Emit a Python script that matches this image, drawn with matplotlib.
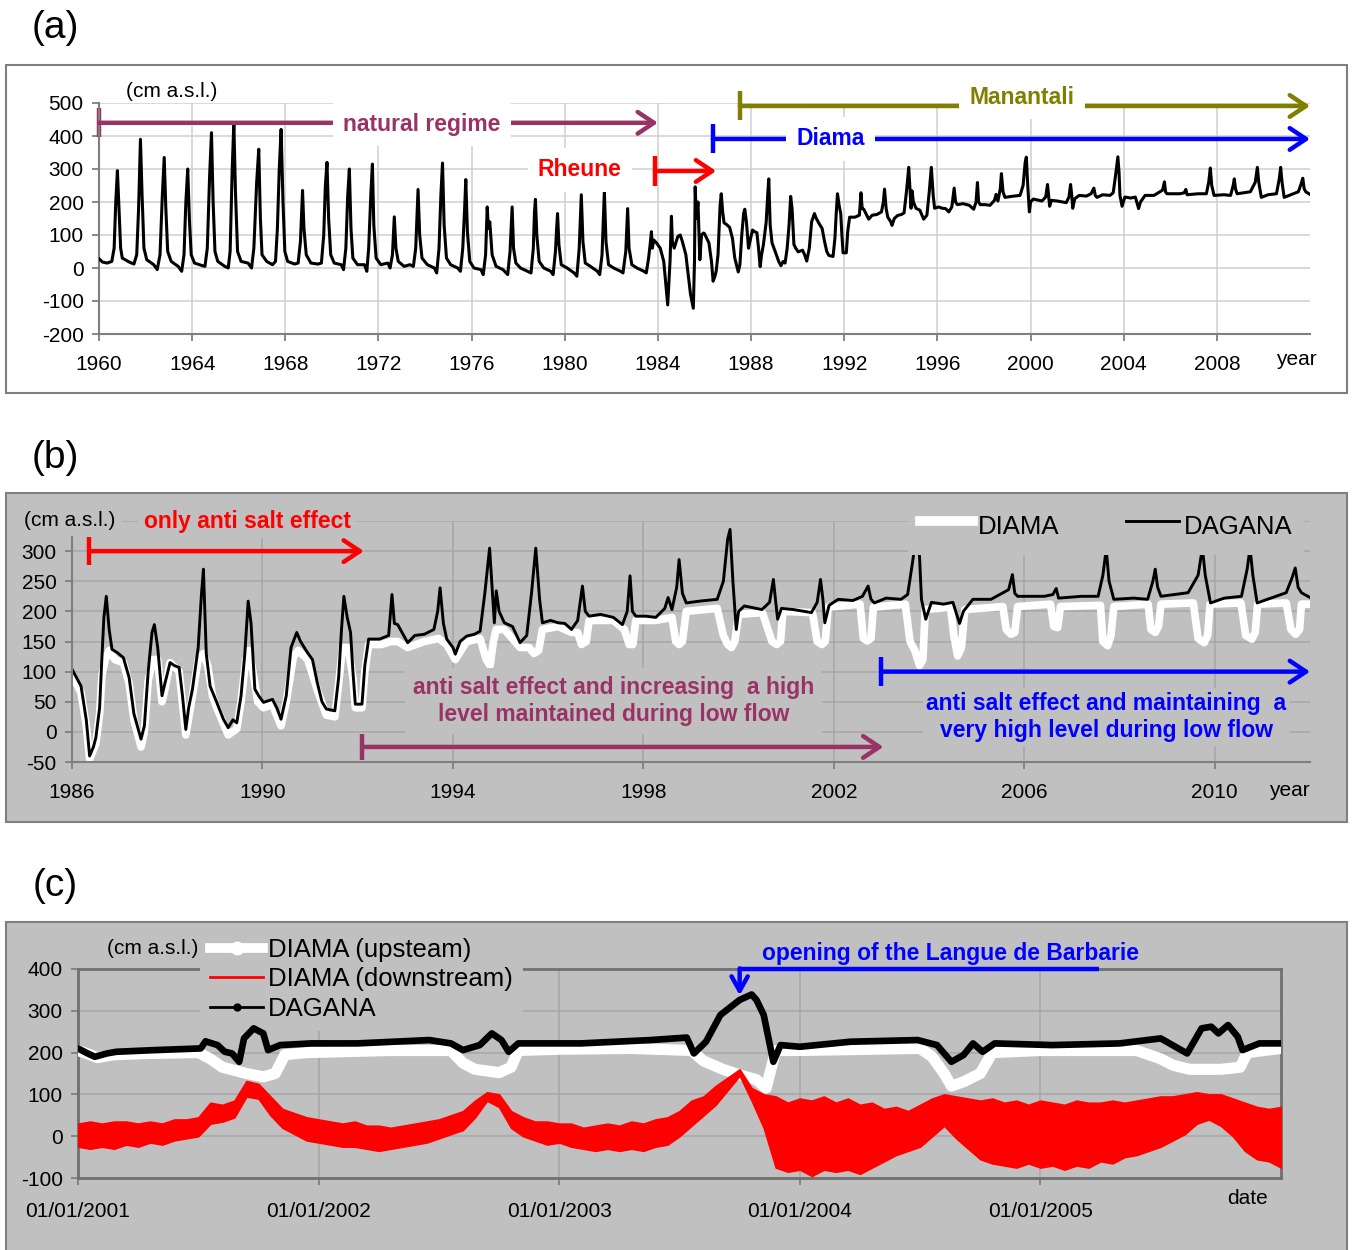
import numpy as np
import matplotlib.pyplot as plt
from matplotlib.patches import Rectangle
from matplotlib.lines import Line2D

plt.rcParams['font.family'] = ['Liberation Sans', 'DejaVu Sans']
plt.rcParams['axes.unicode_minus'] = False

# ---------------- data ----------------
# (a) river level at Dagana before 1986, natural regime years (year, cm a.s.l.)
dagana_pre86 = [
    (1960.00, 28), (1960.15, 18), (1960.35, 15), (1960.55, 20), (1960.65, 60), (1960.72, 200), (1960.79, 295), (1960.86, 180), (1960.93, 60),
    (1961.00, 30), (1961.30, 18), (1961.50, 12), (1961.62, 40), (1961.70, 180), (1961.78, 390), (1961.85, 220), (1961.93, 60),
    (1962.05, 25), (1962.35, 10), (1962.50, -5), (1962.62, 40), (1962.72, 220), (1962.80, 335), (1962.87, 180), (1962.95, 50),
    (1963.10, 20), (1963.40, 5), (1963.55, -10), (1963.65, 40), (1963.73, 200), (1963.81, 300), (1963.88, 150), (1963.96, 40),
    (1964.10, 15), (1964.40, 8), (1964.55, 5), (1964.65, 60), (1964.75, 280), (1964.83, 410), (1964.90, 200), (1964.98, 50),
    (1965.10, 20), (1965.40, 5), (1965.55, 0), (1965.63, 50), (1965.72, 300), (1965.79, 440), (1965.86, 230), (1965.95, 50),
    (1966.10, 20), (1966.40, 15), (1966.55, 0), (1966.65, 60), (1966.77, 260), (1966.86, 360), (1966.93, 150), (1967.00, 40),
    (1967.20, 20), (1967.45, 10), (1967.58, 20), (1967.66, 120), (1967.74, 300), (1967.82, 420), (1967.90, 200), (1967.98, 50),
    (1968.10, 20), (1968.40, 12), (1968.55, 15), (1968.65, 80), (1968.74, 235), (1968.80, 120), (1968.90, 40),
    (1969.10, 15), (1969.40, 12), (1969.55, 15), (1969.65, 100), (1969.72, 250), (1969.79, 320), (1969.86, 150), (1969.95, 40),
    (1970.10, 15), (1970.40, 10), (1970.50, -5), (1970.60, 60), (1970.68, 220), (1970.75, 300), (1970.82, 120), (1970.90, 30),
    (1971.10, 10), (1971.40, 10), (1971.50, -10), (1971.58, 60), (1971.67, 220), (1971.74, 315), (1971.80, 130), (1971.90, 30),
    (1972.10, 10), (1972.40, 15), (1972.50, 0), (1972.60, 40), (1972.68, 155), (1972.75, 60), (1972.85, 20),
    (1973.10, 5), (1973.35, 10), (1973.50, 5), (1973.60, 60), (1973.70, 238), (1973.77, 100), (1973.87, 30),
    (1974.10, 10), (1974.40, 0), (1974.50, -15), (1974.60, 60), (1974.68, 220), (1974.75, 318), (1974.82, 130), (1974.92, 30),
    (1975.10, 10), (1975.40, 0), (1975.52, -10), (1975.62, 60), (1975.70, 180), (1975.75, 268), (1975.82, 110), (1975.92, 20),
    (1976.10, 0), (1976.40, -5), (1976.50, -20), (1976.60, 40), (1976.67, 185), (1976.72, 120), (1976.78, 140), (1976.88, 40),
    (1977.05, 5), (1977.35, -5), (1977.55, -20), (1977.65, 50), (1977.74, 185), (1977.80, 60), (1977.90, 15),
    (1978.10, 0), (1978.40, -10), (1978.55, -15), (1978.65, 60), (1978.70, 170), (1978.74, 208), (1978.80, 100), (1978.90, 20),
    (1979.10, 0), (1979.40, -10), (1979.50, -20), (1979.60, 50), (1979.65, 120), (1979.69, 165), (1979.75, 70), (1979.85, 10),
    (1980.10, 0), (1980.40, -15), (1980.52, -25), (1980.62, 60), (1980.71, 222), (1980.78, 80), (1980.88, 15),
    (1981.10, 5), (1981.40, -10), (1981.50, -20), (1981.60, 40), (1981.70, 232), (1981.77, 80), (1981.88, 10),
    (1982.10, 0), (1982.40, -10), (1982.50, -15), (1982.62, 50), (1982.70, 180), (1982.76, 60), (1982.88, 10),
    (1983.10, 0), (1983.40, -10), (1983.50, -15), (1983.60, 30), (1983.68, 80), (1983.72, 110), (1983.76, 60), (1983.82, 85), (1983.95, 75),
    (1984.10, 60), (1984.25, 20), (1984.42, -112), (1984.52, 20), (1984.58, 157), (1984.62, 80), (1984.70, 60), (1984.85, 95), (1984.96, 100),
    (1985.05, 80), (1985.20, 40), (1985.40, -80), (1985.52, -122), (1985.57, 20), (1985.60, 246), (1985.65, 150), (1985.72, 200),
    (1985.80, 25), (1985.87, 100), (1985.96, 106),
]

# (a)+(b) Dagana 1986-2012
dagana_86 = [
    (1986.00, 104), (1986.19, 76), (1986.30, 20), (1986.37, -40), (1986.45, -25), (1986.50, -10), (1986.58, 40), (1986.62, 110),
    (1986.67, 190), (1986.72, 225), (1986.78, 170), (1986.84, 137), (1986.96, 131), (1987.08, 123), (1987.20, 90), (1987.30, 30),
    (1987.45, -12), (1987.52, 10), (1987.60, 100), (1987.68, 165), (1987.73, 178), (1987.80, 140), (1987.89, 60), (1987.95, 80),
    (1988.06, 115), (1988.15, 110), (1988.25, 107), (1988.32, 60), (1988.39, 4), (1988.45, 40), (1988.53, 71), (1988.65, 140),
    (1988.72, 230), (1988.76, 270), (1988.82, 130), (1988.90, 76), (1989.04, 49), (1989.18, 21), (1989.28, 7), (1989.38, 20),
    (1989.46, 15), (1989.55, 60), (1989.63, 130), (1989.70, 217), (1989.76, 180), (1989.84, 71), (1989.92, 60), (1990.02, 49),
    (1990.21, 54), (1990.30, 40), (1990.39, 21), (1990.50, 60), (1990.60, 140), (1990.72, 165), (1990.80, 150), (1990.95, 131),
    (1991.05, 120), (1991.15, 82), (1991.25, 50), (1991.34, 38), (1991.52, 35), (1991.60, 90), (1991.66, 170), (1991.71, 225),
    (1991.78, 190), (1991.85, 165), (1991.90, 100), (1991.95, 46), (1992.09, 46), (1992.15, 110), (1992.23, 154), (1992.46, 154),
    (1992.65, 160), (1992.72, 228), (1992.77, 180), (1992.84, 178), (1993.05, 148), (1993.20, 160), (1993.40, 162), (1993.60, 170),
    (1993.68, 200), (1993.73, 239), (1993.80, 180), (1993.87, 154), (1994.00, 140), (1994.05, 129), (1994.15, 150), (1994.29, 159),
    (1994.45, 162), (1994.57, 167), (1994.67, 230), (1994.77, 305), (1994.83, 230), (1994.87, 181), (1994.91, 234), (1994.97, 200),
    (1995.08, 181), (1995.25, 175), (1995.41, 148), (1995.55, 160), (1995.65, 230), (1995.74, 305), (1995.82, 220), (1995.88, 181),
    (1996.05, 185), (1996.21, 181), (1996.35, 180), (1996.49, 170), (1996.62, 185), (1996.72, 242), (1996.78, 200), (1996.86, 192),
    (1997.10, 195), (1997.37, 190), (1997.56, 178), (1997.66, 200), (1997.72, 259), (1997.77, 200), (1997.84, 192), (1998.05, 192),
    (1998.26, 190), (1998.45, 205), (1998.52, 223), (1998.60, 203), (1998.70, 240), (1998.75, 286), (1998.82, 230), (1998.90, 214),
    (1999.18, 217), (1999.55, 220), (1999.68, 250), (1999.77, 320), (1999.82, 336), (1999.88, 250), (1999.95, 170), (2000.00, 200),
    (2000.12, 209), (2000.49, 203), (2000.65, 215), (2000.73, 253), (2000.78, 215), (2000.82, 187), (2000.90, 205), (2001.15, 203),
    (2001.53, 198), (2001.65, 215), (2001.72, 253), (2001.77, 220), (2001.81, 181), (2001.90, 210), (2002.09, 220), (2002.40, 218),
    (2002.60, 225), (2002.72, 242), (2002.78, 220), (2002.85, 214), (2003.10, 222), (2003.41, 220), (2003.55, 228), (2003.65, 280),
    (2003.75, 337), (2003.80, 290), (2003.84, 220), (2003.93, 187), (2004.05, 215), (2004.30, 212), (2004.50, 215), (2004.64, 180),
    (2004.72, 200), (2004.92, 220), (2005.30, 220), (2005.67, 236), (2005.75, 261), (2005.80, 230), (2005.86, 225), (2006.42, 225),
    (2006.60, 228), (2006.67, 238), (2006.72, 222), (2007.20, 225), (2007.55, 225), (2007.65, 260), (2007.72, 303), (2007.78, 250),
    (2007.88, 220), (2008.30, 222), (2008.59, 220), (2008.70, 250), (2008.75, 270), (2008.80, 240), (2008.87, 225), (2009.44, 231),
    (2009.65, 260), (2009.74, 305), (2009.80, 260), (2009.91, 214), (2010.20, 222), (2010.56, 225), (2010.68, 270), (2010.74, 305),
    (2010.80, 260), (2010.89, 214), (2011.50, 231), (2011.62, 255), (2011.69, 272), (2011.75, 240), (2011.82, 231), (2012.00, 223),
]

# (b) Diama 1986-2012
diama_86 = [
    (1986.00, 95), (1986.19, 65), (1986.30, 10), (1986.37, -45), (1986.50, -20), (1986.58, 30), (1986.63, 95), (1986.70, 120),
    (1986.78, 135), (1986.90, 120), (1987.08, 115), (1987.20, 80), (1987.30, 20), (1987.45, -25), (1987.52, 0), (1987.60, 85),
    (1987.70, 120), (1987.80, 120), (1987.89, 50), (1987.95, 70), (1988.06, 115), (1988.25, 100), (1988.39, -5), (1988.53, 60),
    (1988.65, 120), (1988.76, 130), (1988.85, 110), (1988.95, 60), (1989.04, 40), (1989.28, -5), (1989.46, 5), (1989.55, 50),
    (1989.65, 120), (1989.72, 135), (1989.80, 100), (1989.90, 50), (1990.02, 40), (1990.21, 45), (1990.39, 10), (1990.50, 50),
    (1990.65, 125), (1990.75, 135), (1990.95, 120), (1991.15, 70), (1991.34, 28), (1991.52, 25), (1991.60, 80), (1991.68, 140),
    (1991.80, 140), (1991.90, 90), (1991.95, 40), (1992.09, 40), (1992.15, 100), (1992.23, 145), (1992.50, 145), (1992.70, 150),
    (1992.84, 150), (1993.05, 140), (1993.40, 150), (1993.70, 155), (1993.87, 145), (1994.05, 120), (1994.29, 150), (1994.57, 155),
    (1994.70, 120), (1994.78, 110), (1994.85, 150), (1994.91, 170), (1995.08, 170), (1995.41, 140), (1995.60, 140), (1995.70, 130),
    (1995.80, 135), (1995.88, 170), (1996.21, 175), (1996.49, 165), (1996.62, 165), (1996.70, 145), (1996.80, 150), (1996.86, 185),
    (1997.37, 185), (1997.60, 170), (1997.70, 145), (1997.78, 145), (1997.84, 185), (1998.26, 185), (1998.60, 190), (1998.68, 150),
    (1998.75, 145), (1998.82, 150), (1998.90, 200), (1999.55, 205), (1999.68, 160), (1999.77, 145), (1999.85, 140), (1999.92, 150),
    (2000.00, 195), (2000.50, 198), (2000.70, 150), (2000.80, 145), (2000.88, 150), (2000.93, 200), (2001.55, 198), (2001.65, 150),
    (2001.75, 145), (2001.82, 150), (2001.88, 207), (2002.55, 212), (2002.62, 155), (2002.70, 151), (2002.78, 155), (2002.83, 207),
    (2003.50, 212), (2003.60, 150), (2003.70, 135), (2003.80, 110), (2003.87, 120), (2003.92, 203), (2004.45, 207), (2004.52, 160),
    (2004.60, 126), (2004.68, 140), (2004.75, 203), (2005.55, 208), (2005.62, 170), (2005.72, 162), (2005.80, 165), (2005.86, 208),
    (2006.55, 212), (2006.62, 175), (2006.70, 173), (2006.76, 208), (2007.60, 210), (2007.65, 150), (2007.75, 143), (2007.82, 160),
    (2007.88, 208), (2008.60, 212), (2008.66, 170), (2008.75, 165), (2008.82, 175), (2008.87, 212), (2009.55, 214), (2009.65, 155),
    (2009.78, 148), (2009.85, 160), (2009.90, 212), (2010.55, 214), (2010.65, 160), (2010.78, 154), (2010.85, 165), (2010.90, 212),
    (2011.50, 214), (2011.60, 170), (2011.70, 162), (2011.78, 170), (2011.82, 212), (2012.00, 212),
]

# (c) 2001-2006
dagana_01 = [
    (2001.00, 210), (2001.04, 198), (2001.07, 190), (2001.12, 198), (2001.16, 202), (2001.32, 206), (2001.51, 210), (2001.53, 227),
    (2001.58, 218), (2001.61, 202), (2001.64, 198), (2001.67, 178), (2001.69, 234), (2001.73, 258), (2001.77, 246), (2001.79, 206),
    (2001.84, 218), (2001.97, 222), (2002.16, 222), (2002.46, 230), (2002.55, 222), (2002.60, 206), (2002.67, 218), (2002.72, 246),
    (2002.76, 230), (2002.79, 202), (2002.83, 222), (2003.09, 222), (2003.38, 230), (2003.53, 236), (2003.56, 198), (2003.61, 226),
    (2003.67, 290), (2003.75, 326), (2003.80, 339), (2003.82, 326), (2003.85, 290), (2003.87, 234), (2003.89, 178), (2003.92, 218),
    (2004.00, 214), (2004.21, 226), (2004.49, 230), (2004.57, 218), (2004.63, 178), (2004.68, 194), (2004.72, 222), (2004.76, 202),
    (2004.81, 222), (2005.05, 218), (2005.33, 222), (2005.50, 234), (2005.61, 198), (2005.67, 258), (2005.71, 262), (2005.74, 246),
    (2005.78, 266), (2005.82, 238), (2005.84, 206), (2005.91, 222), (2006.00, 222),
]
diama_up_01 = [
    (2001.00, 205), (2001.05, 195), (2001.08, 188), (2001.15, 195), (2001.30, 198), (2001.50, 200), (2001.55, 185), (2001.60, 165),
    (2001.70, 150), (2001.77, 142), (2001.82, 150), (2001.86, 195), (2001.95, 200), (2002.30, 205), (2002.55, 205), (2002.60, 175),
    (2002.65, 160), (2002.75, 152), (2002.80, 165), (2002.83, 205), (2003.00, 208), (2003.30, 210), (2003.55, 205), (2003.60, 180),
    (2003.68, 160), (2003.76, 145), (2003.82, 135), (2003.86, 115), (2003.90, 205), (2004.00, 205), (2004.50, 210), (2004.55, 190),
    (2004.60, 150), (2004.63, 120), (2004.68, 130), (2004.75, 150), (2004.80, 200), (2005.00, 205), (2005.40, 205), (2005.50, 185),
    (2005.55, 170), (2005.62, 160), (2005.75, 160), (2005.83, 165), (2005.86, 200), (2006.00, 210),
]
# downstream of Diama: tidal band, (date, low, high)
diama_down_01 = [
    (2001.00, -25, 30), (2001.05, -30, 35), (2001.10, -25, 30), (2001.15, -30, 35), (2001.20, -20, 35), (2001.25, -25, 30),
    (2001.30, -15, 35), (2001.35, -20, 30), (2001.40, -10, 40), (2001.45, -5, 40), (2001.50, 0, 45), (2001.55, 30, 80),
    (2001.60, 35, 75), (2001.65, 45, 85), (2001.70, 95, 132), (2001.75, 90, 125), (2001.80, 50, 95), (2001.85, 20, 65),
    (2001.90, 5, 55), (2001.95, -10, 45), (2002.00, -15, 40), (2002.05, -20, 35), (2002.10, -25, 30), (2002.15, -25, 35),
    (2002.20, -30, 25), (2002.25, -35, 25), (2002.30, -30, 20), (2002.35, -25, 25), (2002.40, -20, 30), (2002.45, -15, 35),
    (2002.50, -5, 40), (2002.55, 5, 50), (2002.60, 15, 60), (2002.65, 45, 85), (2002.70, 85, 105), (2002.75, 70, 100),
    (2002.80, 20, 60), (2002.85, 0, 45), (2002.90, -10, 35), (2002.95, -20, 35), (2003.00, -15, 30), (2003.05, -25, 30),
    (2003.10, -30, 20), (2003.15, -35, 25), (2003.20, -30, 30), (2003.25, -35, 25), (2003.30, -30, 35), (2003.35, -35, 30),
    (2003.40, -25, 40), (2003.45, -20, 45), (2003.50, 0, 60), (2003.55, 25, 85), (2003.60, 50, 95), (2003.65, 75, 120),
    (2003.70, 110, 140), (2003.75, 145, 160), (2003.80, 85, 115), (2003.85, 20, 100), (2003.90, -75, 95), (2003.95, -85, 80),
    (2004.00, -80, 90), (2004.05, -95, 85), (2004.10, -80, 95), (2004.15, -85, 80), (2004.20, -80, 90), (2004.25, -90, 75),
    (2004.30, -75, 80), (2004.35, -60, 65), (2004.40, -45, 70), (2004.45, -35, 60), (2004.50, -25, 75), (2004.55, 0, 90),
    (2004.60, 25, 100), (2004.65, -5, 95), (2004.70, -30, 90), (2004.75, -55, 85), (2004.80, -65, 90), (2004.85, -70, 80),
    (2004.90, -75, 85), (2004.95, -65, 75), (2005.00, -75, 85), (2005.05, -70, 80), (2005.10, -80, 75), (2005.15, -70, 85),
    (2005.20, -75, 80), (2005.25, -60, 80), (2005.30, -65, 85), (2005.35, -50, 80), (2005.40, -45, 85), (2005.45, -35, 90),
    (2005.50, -25, 95), (2005.55, -10, 95), (2005.60, 5, 100), (2005.65, 30, 105), (2005.70, 40, 100), (2005.75, 25, 100),
    (2005.80, 0, 90), (2005.85, -35, 80), (2005.90, -55, 70), (2005.95, -60, 65), (2006.00, -75, 70),
]

# annotation spans: (label, start, end, level, colour)
spans_a = [
    ('natural regime', 1960.0, 1984.0, 440, '#993366'),
    ('Rheune', 1983.87, 1986.5, 294, '#ff0000'),
    ('Diama', 1986.36, 2012.0, 391, '#0000ff'),
    ('Manantali', 1987.52, 2012.0, 491, '#808000'),
]
spans_b = [
    ('only anti salt effect', 1986.36, 1992.13, 300, '#ff0000'),
    ('anti salt effect and increasing  a high', 1992.09, 2003.04, -25, '#993366'),
    ('anti salt effect and maintaining  a', 2003.0, 2012.0, 100, '#0000ff'),
]

# ---------------- figure ----------------
W, H = 1353, 1250
fig = plt.figure(figsize=(W / 100, H / 100), dpi=100)


def fx(px):
    return px / W


def fy(py):
    return 1 - py / H


GREY = '#c0c0c0'
for top, bot, fc in [(65, 393, 'white'), (493, 822, GREY), (922, 1254, GREY)]:
    fig.add_artist(Rectangle((fx(6), fy(bot)), fx(1347) - fx(6), fy(top) - fy(bot),
                             transform=fig.transFigure, fc=fc, ec='#7f7f7f', lw=1.5, zorder=-1))
for lab, py in [('(a)', 28), ('(b)', 458), ('(c)', 886)]:
    fig.text(fx(55), fy(py), lab, fontsize=28, ha='center', va='center')


def style(ax, gridc):
    ax.set_facecolor('none')
    ax.grid(True, color=gridc, lw=1.1)
    ax.set_axisbelow(True)
    for s in ['top', 'right']:
        ax.spines[s].set_visible(False)
    for s in ['left', 'bottom']:
        ax.spines[s].set_color('#7f7f7f')
        ax.spines[s].set_linewidth(1.5)
    ax.tick_params(direction='out', length=5, width=1.3, color='#7f7f7f', labelsize=15)
    ax.tick_params(axis='x', pad=10)
    ax.tick_params(axis='y', pad=6)


def span(ax, x0, x1, y, half, col):
    ax.annotate('', xy=(x1, y), xytext=(x0, y), annotation_clip=False,
                arrowprops=dict(arrowstyle='->,head_length=0.9,head_width=0.6', lw=3.2, color=col,
                                shrinkA=0, shrinkB=0, mutation_scale=13))
    ax.plot([x0, x0], [y - half, y + half], color=col, lw=3.2, clip_on=False, solid_capstyle='butt')


def tag(ax, x, y, s, col, bg, pad=0.35, **kw):
    ax.text(x, y, s, color=col, fontsize=16.5, fontweight='bold', ha='center', va='center', zorder=6,
            bbox=dict(boxstyle='square,pad=%s' % pad, fc=bg, ec='none'), **kw)


# ---- (a) ----
axA = fig.add_axes([fx(99), fy(334), fx(1310) - fx(99), fy(103) - fy(334)])
style(axA, '#cfcfcf')
t_pre, h_pre = np.array(dagana_pre86).T
t_86, h_86 = np.array(dagana_86).T
axA.plot(np.r_[t_pre, t_86], np.r_[h_pre, h_86], color='black', lw=2.2, zorder=3)
axA.set_xlim(1960, 2012)
axA.set_ylim(-200, 500)
axA.set_xticks(range(1960, 2009, 4))
axA.set_yticks(range(-200, 501, 100))
axA.text(1963.13, 536, '(cm a.s.l.)', fontsize=15, ha='center', va='center')
axA.text(0.989, -0.11, 'year', fontsize=15, ha='center', va='center', transform=axA.transAxes)
for (lab, x0, x1, y, col), (lx, ly) in zip(spans_a, [(1973.87, 436), (1980.65, 297), (1991.43, 391), (1999.63, 518)]):
    span(axA, x0, x1, y, 44, col)
    tag(axA, lx, ly, lab, col, 'white', pad=0.45)

# ---- (b) ----
axB = fig.add_axes([fx(72), fy(762), fx(1310) - fx(72), fy(521) - fy(762)])
style(axB, '#a6a6a6')
t, h = np.array(diama_86).T
axB.plot(t, h, color='white', lw=5.5, label='DIAMA', zorder=2, solid_joinstyle='round')
t, h = np.array(dagana_86).T
axB.plot(t, h, color='black', lw=2.1, label='DAGANA', zorder=2.2)
axB.set_xlim(1986, 2012)
axB.set_ylim(-50, 350)
axB.set_xticks(range(1986, 2011, 4))
axB.set_yticks(range(-50, 351, 50))
axB.set_yticklabels([str(v) for v in range(-50, 301, 50)] + [''])
axB.text(1985.96, 351, '(cm a.s.l.)', fontsize=15, ha='center', va='center', zorder=6,
         bbox=dict(boxstyle='square,pad=0.3', fc=GREY, ec='none'))
axB.text(0.983, -0.118, 'year', fontsize=15, ha='center', va='center', transform=axB.transAxes)
span(axB, spans_b[0][1], spans_b[0][2], spans_b[0][3], 23, spans_b[0][4])
tag(axB, 1989.68, 350, spans_b[0][0], spans_b[0][4], GREY, pad=0.25)
span(axB, spans_b[1][1], spans_b[1][2], spans_b[1][3], 21, spans_b[1][4])
tag(axB, 1997.37, 51, spans_b[1][0] + '\nlevel maintained during low flow', spans_b[1][4], GREY, linespacing=1.25)
span(axB, spans_b[2][1], spans_b[2][2], spans_b[2][3], 24, spans_b[2][4])
tag(axB, 2007.72, 25, spans_b[2][0] + '\nvery high level during low flow', spans_b[2][4], GREY, pad=0.15, linespacing=1.25)
leg = axB.legend(loc='upper right', bbox_to_anchor=(fx(1304), fy(497)), bbox_transform=fig.transFigure,
                 ncol=2, fontsize=18.5, frameon=True, facecolor=GREY, edgecolor='none', framealpha=1,
                 fancybox=False, handlelength=2.05, handletextpad=0.2, columnspacing=2.6,
                 borderpad=0.45, handleheight=1.7, borderaxespad=0)
leg.set_zorder(5)
leg.get_lines()[0].set_linewidth(7)

# ---- (c) ----
axC = fig.add_axes([fx(78), fy(1178), fx(1281) - fx(78), fy(969) - fy(1178)])
style(axC, '#a6a6a6')
for s in ['top', 'right', 'left', 'bottom']:
    axC.spines[s].set_visible(True)
    axC.spines[s].set_color('#707070')
    axC.spines[s].set_linewidth(2)
t, h = np.array(diama_up_01).T
axC.plot(t, h, color='white', lw=8, zorder=3.2, solid_joinstyle='round')
t, lo, hi = np.array(diama_down_01).T
axC.fill_between(t, lo, hi, color='#ff0000', lw=1.2, zorder=3.4)
t, h = np.array(dagana_01).T
axC.plot(t, h, color='black', lw=4.8, zorder=3.6, solid_joinstyle='round')
axC.set_xlim(2001, 2006)
axC.set_ylim(-100, 400)
axC.set_xticks(range(2001, 2006))
axC.set_xticklabels(['01/01/%d' % y for y in range(2001, 2006)])
axC.set_yticks(range(-100, 401, 100))
axC.tick_params(axis='x', pad=12)
axC.text(2001.31, 450, '(cm a.s.l.)', fontsize=15, ha='center', va='center')
axC.text(0.972, -0.096, 'date', fontsize=15, ha='center', va='center', transform=axC.transAxes)
handles = [Line2D([], [], color='white', lw=7, marker='o', ms=9, mfc='white', mec='white'),
           Line2D([], [], color='#ff0000', lw=2),
           Line2D([], [], color='black', lw=2, marker='o', ms=5)]
legC = axC.legend(handles, ['DIAMA (upsteam)', 'DIAMA (downstream)', 'DAGANA'], loc='upper left',
                  bbox_to_anchor=(fx(200), fy(928)), bbox_transform=fig.transFigure, fontsize=18.5,
                  frameon=True, facecolor=GREY, edgecolor='none', framealpha=1, fancybox=False,
                  handlelength=2.05, handletextpad=0.2, labelspacing=0.2, borderpad=0.4, borderaxespad=0)
legC.set_zorder(3)
# opening of the Langue de Barbarie
axC.plot([2005.245, 2003.75], [400, 400], color='#0000ff', lw=3.2, clip_on=False, zorder=5,
         solid_capstyle='butt')
axC.annotate('', xy=(2003.75, 337), xytext=(2003.75, 401.5), annotation_clip=False,
             arrowprops=dict(arrowstyle='->,head_length=0.8,head_width=0.45', lw=3.2, color='#0000ff',
                             shrinkA=0, shrinkB=0, mutation_scale=13))
axC.text(2004.627, 438, 'opening of the Langue de Barbarie', color='#0000ff', fontsize=16.5,
         fontweight='bold', ha='center', va='center')

fig.savefig('out.png', dpi=100)
